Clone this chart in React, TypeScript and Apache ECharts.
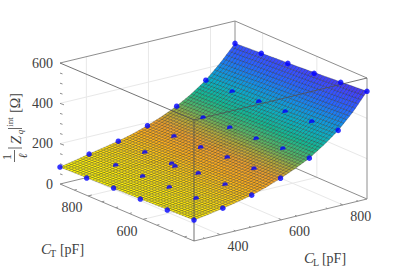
import React, { useEffect, useRef } from "react";
import * as echarts from "echarts";

// Measured points (blue dots): one row per C_T value, one column per C_L value.
const dotCL = [315, 409, 503, 597, 691, 785, 879];
const dotCT = [415, 512, 610, 707, 805, 902];
const dotZ_ct415 = [104, 128, 158, 207, 272, 375, 534];
const dotZ_ct512 = [97, 122, 156, 200, 265, 364, 522];
const dotZ_ct610 = [95, 120, 154, 199, 258, 357, 510];
const dotZ_ct707 = [93, 118, 147, 192, 256, 350, 503];
const dotZ_ct805 = [86, 116, 145, 190, 249, 343, 496];
const dotZ_ct902 = [84, 114, 143, 185, 247, 341, 489];
const extraDot = [503, 695, 140];

// Surface heights at 13 C_L knots and 6 C_T rows.
const surfCL = [315, 362, 409, 456, 503, 550, 597, 644, 691, 738, 785, 832, 879];
const surfZ_ct415 = [104, 115, 128, 142, 158, 180, 207, 237, 272, 320, 375, 447, 534];
const surfZ_ct512 = [100, 112, 125, 139, 155, 176, 202, 232, 267, 314, 368, 439, 524];
const surfZ_ct610 = [96, 109, 122, 136, 152, 172, 198, 227, 261, 308, 360, 432, 514];
const surfZ_ct707 = [92, 105, 119, 133, 149, 169, 194, 223, 256, 302, 354, 425, 505];
const surfZ_ct805 = [88, 102, 117, 131, 146, 165, 190, 218, 252, 296, 347, 417, 497];
const surfZ_ct902 = [84, 98, 114, 128, 143, 162, 185, 214, 247, 290, 341, 410, 489];

const clTicks = [400, 600, 800];
const ctTicks = [600, 800];
const zTicks = [0, 200, 400, 600];

const dotRows = [dotZ_ct415, dotZ_ct512, dotZ_ct610, dotZ_ct707, dotZ_ct805, dotZ_ct902];
const surfRows = [surfZ_ct415, surfZ_ct512, surfZ_ct610, surfZ_ct707, surfZ_ct805, surfZ_ct902];

const CL_MIN = 315, CL_MAX = 879, CT_MIN = 415, CT_MAX = 902, Z_MAX = 600;
const FRONT = [194, 241], RIGHT = [367, 199], LEFT = [60, 184], BACK = [235, 142];
const HEIGHT = 121;

function project(cl: number, ct: number, z: number): [number, number] {
  const u = (cl - CL_MIN) / (CL_MAX - CL_MIN);
  const w = (ct - CT_MIN) / (CT_MAX - CT_MIN);
  const mix = (i: number) =>
    FRONT[i] * (1 - u) * (1 - w) + RIGHT[i] * u * (1 - w) + LEFT[i] * (1 - u) * w + BACK[i] * u * w;
  return [mix(0), mix(1) - (z / Z_MAX) * HEIGHT];
}

const colorStops: [number, number[]][] = [
  [90, [255, 248, 10]], [130, [255, 222, 20]], [170, [255, 176, 30]], [200, [240, 160, 45]],
  [230, [180, 170, 60]], [260, [90, 180, 100]], [300, [20, 185, 145]], [345, [10, 175, 195]],
  [400, [20, 140, 235]], [450, [40, 100, 255]], [500, [60, 72, 255]], [540, [76, 50, 235]],
];
function colorOf(z: number) {
  let a = colorStops[0], b = colorStops[colorStops.length - 1];
  for (let i = 0; i < colorStops.length - 1; i++) {
    if (z >= colorStops[i][0] && z <= colorStops[i + 1][0]) { a = colorStops[i]; b = colorStops[i + 1]; break; }
  }
  const t = Math.min(1, Math.max(0, (z - a[0]) / (b[0] - a[0] || 1)));
  const c = a[1].map((v, i) => Math.round(v + (b[1][i] - v) * t));
  return `rgb(${c[0]},${c[1]},${c[2]})`;
}

// Drawing subdivision only: facets inside a knot cell, so the surface shows its fine mesh.
const SUB_CL = 5, SUB_CT = 9;
function surfaceFacets() {
  const out: number[][] = [];
  const at = (fi: number, fk: number) => {
    const i0 = Math.min(Math.floor(fi), surfCL.length - 2), k0 = Math.min(Math.floor(fk), surfRows.length - 2);
    const a = fi - i0, b = fk - k0;
    const z = (surfRows[k0][i0] * (1 - a) + surfRows[k0][i0 + 1] * a) * (1 - b) +
      (surfRows[k0 + 1][i0] * (1 - a) + surfRows[k0 + 1][i0 + 1] * a) * b;
    const cl = surfCL[i0] + (surfCL[i0 + 1] - surfCL[i0]) * a;
    const ct = dotCT[k0] + (dotCT[k0 + 1] - dotCT[k0]) * b;
    return { p: project(cl, ct, z), z };
  };
  const nI = (surfCL.length - 1) * SUB_CL, nK = (surfRows.length - 1) * SUB_CT;
  for (let k = nK - 1; k >= 0; k--) {
    for (let i = 0; i < nI; i++) {
      const q = [at(i / SUB_CL, k / SUB_CT), at((i + 1) / SUB_CL, k / SUB_CT), at((i + 1) / SUB_CL, (k + 1) / SUB_CT), at(i / SUB_CL, (k + 1) / SUB_CT)];
      out.push([...q[0].p, ...q[1].p, ...q[2].p, ...q[3].p, (q[0].z + q[1].z + q[2].z + q[3].z) / 4]);
    }
  }
  return out;
}

const seg = (a: [number, number], b: [number, number]) => [a[0], a[1], b[0], b[1]];
const GRID = "#e8e8e8", BOX = "#8e8e8e";

function gridSegments() {
  const s: number[][] = [];
  zTicks.slice(1, 3).forEach((z) => {
    s.push(seg(project(CL_MIN, CT_MAX, z), project(CL_MAX, CT_MAX, z)));
    s.push(seg(project(CL_MAX, CT_MAX, z), project(CL_MAX, CT_MIN, z)));
  });
  clTicks.forEach((c) => {
    s.push(seg(project(c, CT_MIN, 0), project(c, CT_MAX, 0)));
    s.push(seg(project(c, CT_MAX, 0), project(c, CT_MAX, Z_MAX)));
  });
  ctTicks.forEach((c) => {
    s.push(seg(project(CL_MIN, c, 0), project(CL_MAX, c, 0)));
    s.push(seg(project(CL_MAX, c, 0), project(CL_MAX, c, Z_MAX)));
  });
  return s;
}
function backBox() {
  const P = project;
  return [
    seg(P(CL_MAX, CT_MIN, 0), P(CL_MAX, CT_MIN, Z_MAX)),
    seg(P(CL_MAX, CT_MAX, 0), P(CL_MAX, CT_MAX, Z_MAX)),
    seg(P(CL_MIN, CT_MAX, Z_MAX), P(CL_MAX, CT_MAX, Z_MAX)), seg(P(CL_MAX, CT_MAX, Z_MAX), P(CL_MAX, CT_MIN, Z_MAX)),
    seg(P(CL_MIN, CT_MAX, 0), P(CL_MAX, CT_MAX, 0)), seg(P(CL_MAX, CT_MAX, 0), P(CL_MAX, CT_MIN, 0)),
    seg(P(CL_MIN, CT_MIN, 0), P(CL_MAX, CT_MIN, 0)), seg(P(CL_MIN, CT_MIN, 0), P(CL_MIN, CT_MAX, 0)),
  ];
}
function frontBox() {
  const P = project;
  return [
    seg(P(CL_MIN, CT_MIN, 0), P(CL_MIN, CT_MIN, Z_MAX)),
    seg(P(CL_MIN, CT_MAX, Z_MAX), P(CL_MIN, CT_MIN, Z_MAX)),
    seg(P(CL_MIN, CT_MIN, Z_MAX), P(CL_MAX, CT_MIN, Z_MAX)),
  ];
}
function tickSegments() {
  const s: number[][] = [];
  for (let c = 350; c <= 850; c += 50) {
    const len = c % 200 === 0 ? 10 : 6;
    s.push(seg(project(c, CT_MIN, 0), project(c, CT_MIN + len, 0)));
  }
  for (let c = 450; c <= 900; c += 50) {
    const len = c % 200 === 0 ? 12 : 8;
    s.push(seg(project(CL_MIN, c, 0), project(CL_MIN + len, c, 0)));
  }
  for (let z = 50; z <= 550; z += 50) {
    const a = project(CL_MIN, CT_MAX, z);
    s.push([a[0], a[1], a[0] + (z % 200 === 0 ? 4 : 2.5), a[1] + (z % 200 === 0 ? 1.5 : 0.8)]);
  }
  return s;
}

const DISC = "path://M0 10 A10 10 0 1 1 20 10 L20 11 L0 14 Z";
function dotData() {
  const full: number[][] = [], half: number[][] = [];
  dotRows.forEach((row, k) =>
    row.forEach((z, i) => {
      const p = project(dotCL[i], dotCT[k], z);
      const edge = i === 0 || i === row.length - 1 || k === 0 || k === dotRows.length - 1;
      (edge ? full : half).push(p);
    })
  );
  half.push(project(extraDot[0], extraDot[1], extraDot[2]));
  return { full, half };
}

const SERIF = "'Liberation Serif','DejaVu Serif',serif";
const INK = "#404040";
function label(text: string, x: number, y: number, size: number, extra: any = {}) {
  return {
    type: "text", x, y, rotation: extra.rotation || 0, silent: true,
    style: { text, fill: INK, font: `${extra.italic ? "italic " : ""}${size}px ${SERIF}`, align: extra.align || "center", verticalAlign: "middle" },
  };
}
const ROT = { rotation: Math.PI / 2 };

function lineSeries(data: number[][], color: string, width: number, z: number) {
  return {
    type: "custom", data, z, silent: true, clip: false, coordinateSystem: "cartesian2d",
    encode: { x: 0, y: 1 },
    renderItem: (_: any, api: any) => {
      const a = api.coord([api.value(0), api.value(1)]);
      const b = api.coord([api.value(2), api.value(3)]);
      return { type: "line", shape: { x1: a[0], y1: a[1], x2: b[0], y2: b[1] }, style: { stroke: color, lineWidth: width, fill: null } };
    },
  };
}

export default function App() {
  const ref = useRef<HTMLDivElement>(null);
  useEffect(() => {
    const chart = echarts.init(ref.current!, undefined, { renderer: "svg" });
    const { full, half } = dotData();
    const texts: any[] = [];
    zTicks.forEach((z) => {
      const p = project(CL_MIN, CT_MAX, z);
      texts.push(label(String(z), 53, p[1], 14, { align: "right" }));
    });
    clTicks.forEach((c) => {
      const p = project(c, CT_MIN, 0);
      texts.push(label(String(c), p[0] + 18, p[1] + 12, 14));
    });
    ctTicks.forEach((c) => {
      const p = project(CL_MIN, c, 0);
      texts.push(label(String(c), p[0] - 16, p[1] + 12, 14));
    });
    texts.push(
      label("C", 46, 249, 15, { italic: true }), label("T", 53, 253, 10), label("[pF]", 72, 249, 14),
      label("C", 309, 258, 15, { italic: true }), label("L", 316, 262, 10), label("[pF]", 334, 258, 14),
      label("1", 7, 157, 12, ROT), label("\u2113", 23, 156, 12, { ...ROT, italic: true }),
      label("Z", 16, 140, 15, { ...ROT, italic: true }), label("q", 20, 132, 9, { ...ROT, italic: true }),
      label("int", 10, 122, 9, ROT), label("[\u03a9]", 15, 103, 14, ROT),
      { type: "line", silent: true, shape: { x1: 14.5, y1: 150, x2: 14.5, y2: 162 }, style: { stroke: INK, lineWidth: 0.8 } },
      { type: "line", silent: true, shape: { x1: 8, y1: 148, x2: 22, y2: 148 }, style: { stroke: INK, lineWidth: 0.8 } },
      { type: "line", silent: true, shape: { x1: 8, y1: 128.5, x2: 22, y2: 128.5 }, style: { stroke: INK, lineWidth: 0.8 } }
    );
    chart.setOption({
      animation: false,
      grid: { left: 0, right: 0, top: 0, bottom: 0 },
      xAxis: { type: "value", min: 0, max: 407, show: false },
      yAxis: { type: "value", min: 0, max: 272, inverse: true, show: false },
      graphic: texts,
      series: [
        lineSeries(gridSegments(), GRID, 1, 1),
        lineSeries(backBox(), BOX, 1, 2),
        lineSeries(tickSegments(), BOX, 1, 2),
        {
          type: "custom", z: 3, silent: true, clip: false, data: surfaceFacets(),
          encode: { x: 0, y: 1 },
          renderItem: (_: any, api: any) => {
            const pts = [0, 2, 4, 6].map((n) => api.coord([api.value(n), api.value(n + 1)]));
            return {
              type: "polygon", shape: { points: pts },
              style: { fill: colorOf(api.value(8)), stroke: "rgba(20,20,10,0.5)", lineWidth: 0.5 },
            };
          },
        },
        lineSeries(frontBox(), "rgba(80,80,80,0.8)", 1, 4),
        { type: "scatter", z: 5, silent: true, clip: false, data: half, symbol: DISC, symbolSize: [5.5, 4], itemStyle: { color: "#0000ff" } },
        { type: "scatter", z: 5, silent: true, clip: false, data: full, symbol: "circle", symbolSize: 5.5, itemStyle: { color: "#0000ff" } },
      ],
    });
    return () => chart.dispose();
  }, []);
  return <div ref={ref} style={{ position: "absolute", left: 0, top: 0, width: 407, height: 272 }} />;
}
